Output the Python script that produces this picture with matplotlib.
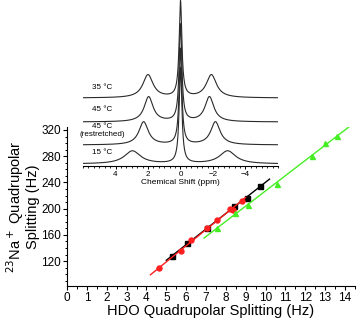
import numpy as np
import matplotlib
matplotlib.use("Agg")
import matplotlib.pyplot as plt
from matplotlib.ticker import MultipleLocator

plt.rcParams["font.family"] = ["Liberation Sans", "DejaVu Sans"]

# main panel: 23Na vs HDO splitting
hdo_black = [5.30, 6.05, 7.05, 8.43, 9.06, 9.73]
na_black = [128, 147, 170, 204, 217, 234]
hdo_red = [4.63, 5.74, 6.25, 7.05, 7.56, 8.23, 8.35, 8.82]
na_red = [109, 135, 152, 171, 183, 200, 198, 212]
hdo_green = [7.53, 8.45, 9.14, 10.56, 12.36, 13.00, 13.62]
na_green = [171, 193, 205, 238, 280, 300, 311]
fit_black = (5.0, 10.2)
fit_red = (4.2, 9.0)
fit_green = (6.9, 14.2)

labels = ["35 °C", "45 °C", "45 °C\n(restretched)", "15 °C"]
offsets = [68, 44, 21, 2]
sat_pos = [(2.0, -1.9), (1.96, -1.78), (2.27, -2.15), (2.96, -2.9)]
sat_amp = [23, 25, 23, 13]
sat_hw = [0.38, 0.33, 0.35, 0.6]
center_amp = [96, 97, 96, 96]
center_hw = 0.1

fig = plt.figure(figsize=(3.57, 3.24), dpi=100)
ax = fig.add_axes([0.188, 0.117, 0.806, 0.49])
for xs, ys, fr, c, m in [(hdo_black, na_black, fit_black, "black", "s"),
                         (hdo_red, na_red, fit_red, "#ff1f1f", "o"),
                         (hdo_green, na_green, fit_green, "#44ee22", "^")]:
    k, b = np.polyfit(xs, ys, 1)
    xx = np.array(fr)
    ax.plot(xx, k * xx + b, color=c, lw=1)
    ax.plot(xs, ys, m, color=c, ms=3.6, mec=c)

ax.set_xlim(0, 14.5)
ax.set_ylim(82, 324)
ax.xaxis.set_major_locator(MultipleLocator(1))
ax.xaxis.set_minor_locator(MultipleLocator(0.5))
ax.set_yticks([120, 160, 200, 240, 280, 320])
ax.yaxis.set_minor_locator(MultipleLocator(10))
for s in ["top", "right"]:
    ax.spines[s].set_visible(False)
ax.tick_params(labelsize=8.5, length=3, width=0.8, pad=1.5)
ax.tick_params(which="minor", length=1.8, width=0.7)
ax.set_xlabel("HDO Quadrupolar Splitting (Hz)", fontsize=10.5, labelpad=0)
ax.set_ylabel("$^{23}$Na$^+$ Quadrupolar\nSplitting (Hz)", fontsize=10.5, labelpad=1,
              linespacing=0.95)
ax.patch.set_alpha(0)

ins = fig.add_axes([0.2325, 0.4877, 0.5462, 0.5123])
ins.patch.set_alpha(0)
ppm = np.linspace(6, -6, 1200)
for lab, off, (p1, p2), a, w, ca in zip(labels, offsets, sat_pos, sat_amp, sat_hw, center_amp):
    y = off + ca * center_hw**2 / (ppm**2 + center_hw**2)
    y += a * w**2 / ((ppm - p1)**2 + w**2) + a * w**2 / ((ppm - p2)**2 + w**2)
    ins.plot(ppm, y, color="#2a2a2a", lw=0.8)
ins.set_xlim(6, -6)
ins.set_ylim(0, 166)
for s in ["top", "right", "left"]:
    ins.spines[s].set_visible(False)
ins.set_yticks([])
ins.set_xticks([4, 2, 0, -2, -4])
ins.xaxis.set_minor_locator(MultipleLocator(1 / 3))
ins.tick_params(labelsize=5.8, length=2.5, width=0.7, pad=1)
ins.tick_params(which="minor", length=1.5, width=0.6)
ins.set_xlabel("Chemical Shift (ppm)", fontsize=6, labelpad=1)
lab_y = [78, 56, 35, 13]
for lab, ly in zip(labels, lab_y):
    ins.text(4.8, ly, lab, fontsize=5.8, ha="center", va="center", linespacing=1.2)

fig.savefig("out.png", dpi=100)
